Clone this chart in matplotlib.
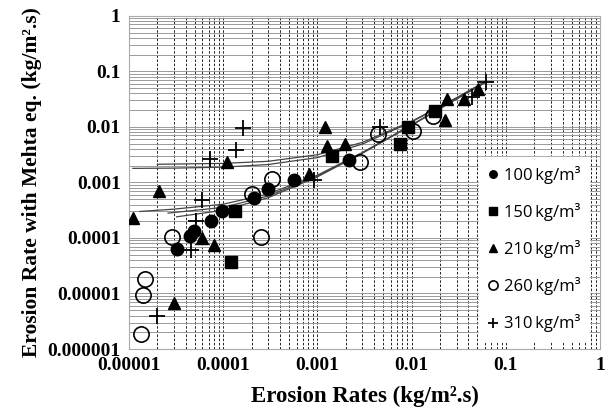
import matplotlib.pyplot as plt
from matplotlib.ticker import LogLocator, NullFormatter

# measured vs. Mehta-predicted erosion rates, per concentration
x_100 = [3.2e-5, 4.45e-5, 4.95e-5, 7.4e-5, 9.8e-5, 2.1e-4, 3.0e-4, 5.7e-4, 2.16e-3]
y_100 = [6.4e-5, 1.1e-4, 1.35e-4, 2.0e-4, 3.0e-4, 5.3e-4, 7.7e-4, 1.1e-3, 2.5e-3]

x_150 = [1.33e-4, 1.22e-4, 1.44e-3, 7.5e-3, 9.1e-3, 1.79e-2]
y_150 = [3.0e-4, 3.7e-5, 3.0e-3, 5.0e-3, 9.8e-3, 1.9e-2]

x_210 = [1.1e-5, 2.1e-5, 3.0e-5, 6.0e-5, 8.0e-5, 1.1e-4, 8.2e-4, 1.19e-3,
         1.27e-3, 1.97e-3, 2.24e-2, 2.4e-2, 3.57e-2, 5.1e-2]
y_210 = [2.3e-4, 6.9e-4, 6.8e-6, 1.0e-4, 7.5e-5, 2.3e-3, 1.4e-3, 1.0e-2,
         4.5e-3, 5.0e-3, 1.33e-2, 3.2e-2, 3.2e-2, 4.8e-2]

x_260 = [1.33e-5, 1.41e-5, 1.47e-5, 2.84e-5, 2.5e-4, 2.0e-4, 3.3e-4, 2.84e-3,
         4.45e-3, 1.04e-2, 1.69e-2]
y_260 = [1.9e-6, 9.4e-6, 1.8e-5, 1.03e-4, 1.03e-4, 6.3e-4, 1.15e-3, 2.3e-3,
         7.3e-3, 8.3e-3, 1.6e-2]

x_310 = [2.0e-5, 4.57e-5, 5.2e-5, 6.0e-5, 7.2e-5, 1.36e-4, 1.62e-4, 9.3e-4,
         4.65e-3, 4.4e-2, 6.15e-2]
y_310 = [3.9e-6, 6.1e-5, 2.0e-4, 4.9e-4, 2.6e-3, 3.8e-3, 9.6e-3, 1.1e-3,
         9.8e-3, 3.4e-2, 6.5e-2]

# fitted curves
fit_x = [
    [1.3e-5, 3e-5, 1e-4, 3e-4, 1e-3, 3e-3, 1e-2, 3e-2, 6.2e-2],
    [2.6e-5, 1e-4, 3e-4, 1e-3, 3e-3, 1e-2, 3e-2, 6.2e-2],
    [3.2e-5, 1e-4, 3e-4, 1e-3, 3e-3, 1e-2, 3e-2, 6.2e-2],
    [1.1e-5, 3e-5, 1e-4, 3e-4, 1e-3, 3e-3, 1e-2, 3e-2, 6.2e-2],
    [2e-5, 1e-4, 3e-4, 1e-3, 3e-3, 1e-2, 3e-2, 6.2e-2],
]
fit_y = [
    [3.0e-4, 3.3e-4, 4.05e-4, 6.2e-4, 1.35e-3, 3.45e-3, 1.08e-2, 3.2e-2, 6.5e-2],
    [2.8e-4, 3.55e-4, 5.7e-4, 1.3e-3, 3.4e-3, 1.08e-2, 3.2e-2, 6.5e-2],
    [2.4e-4, 3.15e-4, 5.3e-4, 1.26e-3, 3.35e-3, 1.07e-2, 3.2e-2, 6.5e-2],
    [1.79e-3, 1.81e-3, 1.88e-3, 2.1e-3, 2.8e-3, 4.9e-3, 1.23e-2, 3.3e-2, 6.7e-2],
    [2.12e-3, 2.2e-3, 2.4e-3, 3.15e-3, 5.25e-3, 1.26e-2, 3.35e-2, 6.7e-2],
]

ticks = [1e-6, 1e-5, 1e-4, 1e-3, 1e-2, 1e-1, 1]
tick_labels = ["0.000001", "0.00001", "0.0001", "0.001", "0.01", "0.1", "1"]

serif = ["Liberation Serif", "DejaVu Serif"]

fig = plt.figure(figsize=(6.07, 4.16), dpi=100)
ax = fig.add_axes([0.2125, 0.161, 0.776, 0.801])
ax.set_xscale("log")
ax.set_yscale("log")

for fx, fy in zip(fit_x, fit_y):
    ax.plot(fx, fy, color="#444444", lw=0.9, zorder=2)

ax.plot(x_100, y_100, "o", color="black", ms=9, ls="none", label="100\u2009kg/m\u00b3", zorder=3)
ax.plot(x_150, y_150, "s", color="black", ms=9, ls="none", label="150\u2009kg/m\u00b3", zorder=3)
ax.plot(x_210, y_210, "^", color="black", ms=9, ls="none", label="210\u2009kg/m\u00b3", zorder=3)
ax.plot(x_260, y_260, "o", mfc="none", mec="black", mew=1.2, ms=11, ls="none",
        label="260\u2009kg/m\u00b3", zorder=3)
ax.plot(x_310, y_310, "+", color="black", mew=1.3, ms=12, ls="none",
        label="310\u2009kg/m\u00b3", zorder=3)

ax.set_xlim(1e-5, 1)
ax.set_ylim(1e-6, 1)

ax.set_xticks(ticks[1:])
ax.set_xticklabels(tick_labels[1:])
ax.set_yticks(ticks)
ax.set_yticklabels(tick_labels)
ax.xaxis.set_minor_locator(LogLocator(base=10, subs=range(2, 10), numticks=20))
ax.yaxis.set_minor_locator(LogLocator(base=10, subs=range(2, 10), numticks=20))
ax.xaxis.set_minor_formatter(NullFormatter())
ax.yaxis.set_minor_formatter(NullFormatter())
ax.tick_params(which="both", length=0, pad=6)
for lab in ax.get_xticklabels() + ax.get_yticklabels():
    lab.set_family(serif)
    lab.set_fontweight("bold")
    lab.set_fontsize(14)

ax.grid(True, which="both", axis="x", color="black", ls=(0, (3, 2)), lw=0.6)
ax.grid(True, which="both", axis="y", color="#999999", ls="-", lw=0.7)
ax.set_axisbelow(True)
for sp in ax.spines.values():
    sp.set_color("#aaaaaa")
    sp.set_linewidth(0.8)

ax.set_xlabel("Erosion Rates (kg/m\u00b2.s)", family=serif, fontweight="bold",
              fontsize=16.5, labelpad=8)
ax.set_ylabel("Erosion Rate with Mehta eq. (kg/m\u00b2.s)", family=serif,
              fontweight="bold", fontsize=15.5, labelpad=4)

leg = ax.legend(loc="lower right", bbox_to_anchor=(0.995, 0.0), frameon=True,
                fancybox=False, edgecolor="white", framealpha=1, markerscale=0.6,
                handlelength=0.6, handletextpad=0.4, labelspacing=1.15,
                borderpad=0.5, prop={"family": ["Open Sans", "DejaVu Sans"], "size": 12})
leg.set_zorder(5)

fig.savefig("out.png", dpi=100)
